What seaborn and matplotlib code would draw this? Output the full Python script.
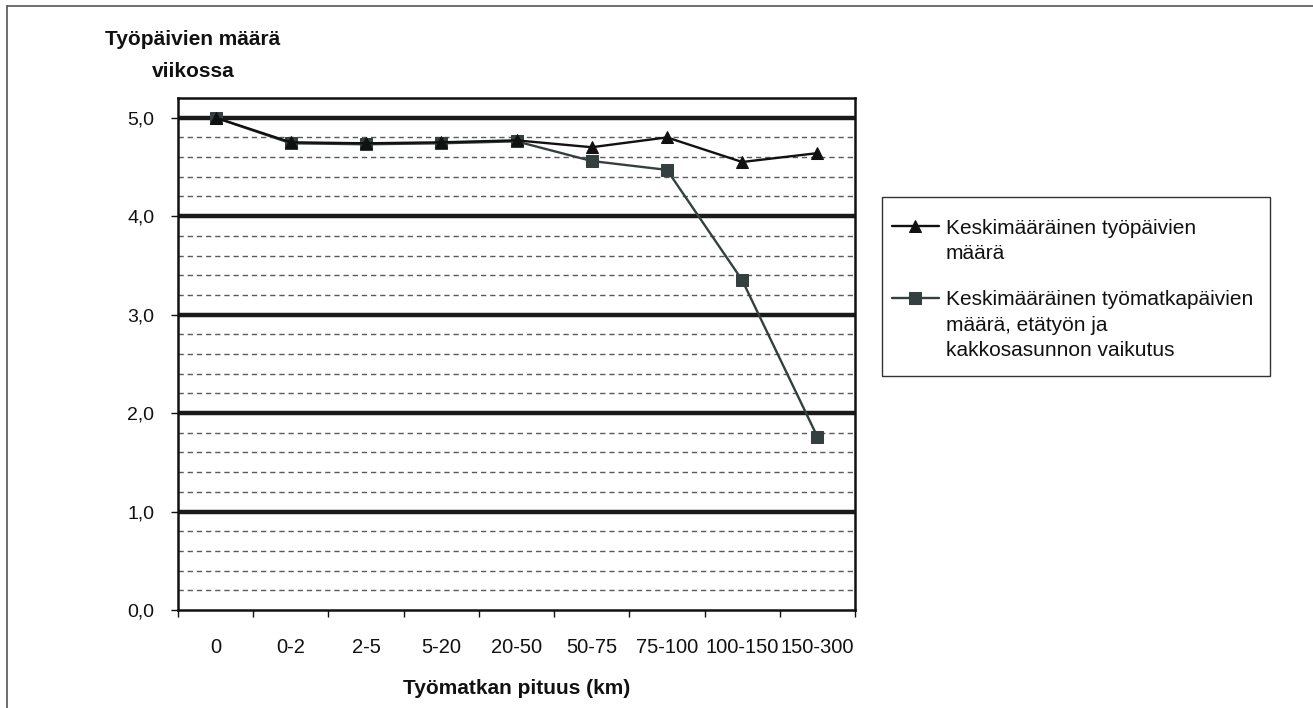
import matplotlib
matplotlib.use("Agg")
import matplotlib.pyplot as plt
import seaborn as sns
import pandas as pd
import numpy as np
from matplotlib.lines import Line2D
from matplotlib.patches import Rectangle
from matplotlib.legend_handler import HandlerLine2D
from matplotlib.ticker import MultipleLocator, FuncFormatter

# Commute length classes (km)
categories = ["0", "0-2", "2-5", "5-20", "20-50", "50-75", "75-100", "100-150", "150-300"]
# Average number of working days per week
workdays = [5.00, 4.75, 4.74, 4.75, 4.77, 4.70, 4.80, 4.55, 4.64]
# Average number of commuting days, effect of telework and second home
commute_days = [5.00, 4.74, 4.73, 4.74, 4.76, 4.56, 4.47, 3.35, 1.76]

label_workdays = "Keskimääräinen työpäivien\nmäärä"
label_commute = "Keskimääräinen työmatkapäivien\nmäärä, etätyön ja\nkakkosasunnon vaikutus"

sns.set_theme(style="white")
plt.rcParams["font.family"] = ["Liberation Sans", "DejaVu Sans"]

W, H = 1313, 708
fig = plt.figure(figsize=(W / 100, H / 100), dpi=100)
ax = fig.add_axes([178 / W, 1 - 610 / H, (855 - 178) / W, (610 - 98) / H])

df = pd.DataFrame({"matka": categories, "tyopaivat": workdays, "matkapaivat": commute_days})

sns.lineplot(data=df, x="matka", y="tyopaivat", ax=ax, color="#111111", marker="^",
             markersize=9, markeredgecolor="#111111", linewidth=1.7, label=label_workdays,
             sort=False, zorder=5)
sns.lineplot(data=df, x="matka", y="matkapaivat", ax=ax, color="#34403f", marker="s",
             markersize=8, markeredgecolor="#34403f", linewidth=1.7, label=label_commute,
             sort=False, zorder=4)

ax.set_xlim(-0.5, len(categories) - 0.5)
ax.set_ylim(0, 5.2)

# Gridlines: thick solid at whole days, dashed at 0.2 steps
for v in [x / 5 for x in range(1, 26)]:
    if abs(v - round(v)) < 1e-9:
        ax.axhline(v, color="#1a1a1a", linewidth=3.2, zorder=1)
    else:
        ax.axhline(v, color="#5a5a5a", linewidth=1.0, linestyle=(0, (3.8, 2.8)), zorder=1)

ax.yaxis.set_major_locator(MultipleLocator(1.0))
ax.yaxis.set_major_formatter(FuncFormatter(lambda v, p: f"{v:.1f}".replace(".", ",")))
ax.set_xticks(range(len(categories)))
ax.set_xticklabels(categories)
ax.set_xticks([i - 0.5 for i in range(len(categories) + 1)], minor=True)
ax.tick_params(axis="x", which="major", length=0, pad=20, labelsize=14.5, colors="#111111")
ax.tick_params(axis="x", which="minor", length=5, width=1.0, color="#111111", direction="out", bottom=True)
ax.tick_params(axis="y", which="major", length=5, width=1.0, color="#111111", direction="out",
               left=True, pad=12, labelsize=14, labelcolor="#111111")

for s in ax.spines.values():
    s.set_color("#111111")
    s.set_linewidth(1.8)

ax.set_xlabel("Työmatkan pituus (km)", fontsize=15, fontweight="bold", color="#111111")
ax.xaxis.label.set_va("center")
ax.xaxis.set_label_coords(0.5, (610 - 688) / 512)
ax.set_ylabel("")
fig.text(193 / W, 1 - 45 / H, "Työpäivien määrä", ha="center", va="baseline",
         fontsize=15, fontweight="bold", color="#111111")
fig.text(193 / W, 1 - 77 / H, "viikossa", ha="center", va="baseline",
         fontsize=15, fontweight="bold", color="#111111")


def lifted(dy_pt):
    """Legend handler whose line sits dy_pt points higher (level with the first label line)."""
    def update(legline, orig):
        legline.update_from(orig)
        legline.set_ydata(np.asarray(legline.get_ydata(), dtype=float) + dy_pt)
    return HandlerLine2D(update_func=update)


# Legend entries without their own frame; the box is drawn separately
handles, labels = ax.get_legend_handles_labels()
hmap = {handles[0]: lifted(10.8), handles[1]: lifted(19.5)}
leg = ax.legend(handles, labels, handler_map=hmap,
                loc="upper left", bbox_to_anchor=(892 / W, 1 - 219 / H),
                bbox_transform=fig.transFigure, frameon=False,
                handlelength=2.25, handletextpad=0.33, labelspacing=1.3,
                borderpad=0, borderaxespad=0, prop={"size": 15})
for t in leg.get_texts():
    t.set_color("#111111")
    t.set_linespacing(1.42)
fig.add_artist(Rectangle((882 / W, 1 - 376 / H), (1270 - 882) / W, (376 - 197) / H,
                         transform=fig.transFigure, fill=False, edgecolor="#333333", linewidth=1.0))

# Frame lines along the top and left edges of the figure
fig.add_artist(Line2D([6.5 / W, 1], [1 - 5.5 / H, 1 - 5.5 / H], transform=fig.transFigure,
                      color="#555555", linewidth=1.2))
fig.add_artist(Line2D([6.5 / W, 6.5 / W], [0, 1 - 5.5 / H], transform=fig.transFigure,
                      color="#555555", linewidth=1.2))

fig.savefig("out.png", dpi=100)
